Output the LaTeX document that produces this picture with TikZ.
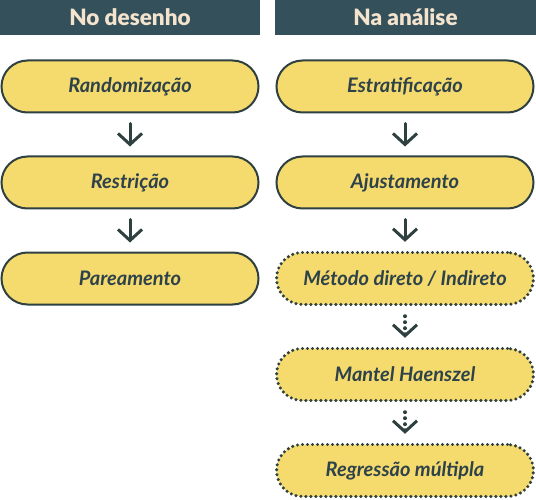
\documentclass[tikz,border=0pt]{standalone}
\usepackage{fontspec}
\setmainfont{Lato}
\newfontfamily\hdrfont{Lato Black}
\usetikzlibrary{arrows.meta}
\definecolor{hdrbg}{HTML}{34505A}
\definecolor{hdrtx}{HTML}{F4E4CE}
\definecolor{boxbg}{HTML}{F5DA6E}
\definecolor{boxln}{HTML}{2E4040}
\definecolor{boxtx}{HTML}{2E424A}
\tikzset{
  hdr/.style={fill=hdrbg, text=hdrtx, font=\hdrfont\fontsize{22.5}{24}\selectfont, minimum width=260pt, minimum height=35pt, inner sep=0pt},
  pill/.style={fill=boxbg, draw=boxln, line width=2pt, rounded corners=26pt, minimum width=257pt, minimum height=52pt, inner sep=0pt, text=boxtx, font=\fontsize{20}{23}\selectfont\bfseries\itshape},
  dotpill/.style={pill, line width=3.4pt, line cap=round, dash pattern=on 0pt off 5pt},
  arr/.style={draw=boxln, line width=3pt, line cap=round, line join=round, -{Straight Barb[length=11pt, width=24pt, line width=3pt]}, shorten <=10pt, shorten >=9pt},
  dotarr/.style={arr, line width=4pt, dash pattern=on 0pt off 6pt}
}
\begin{document}
\begin{tikzpicture}[x=1pt, y=-1pt]
\useasboundingbox (0,0) rectangle (536,500);
\node[hdr] (h1) at (130,17.5) {No desenho};
\node[hdr, minimum width=261pt] (h2) at (405.5,17.5) {Na análise};
\node[pill] (l1) at (130,86.5) {Randomização};
\node[pill] (l2) at (130,182.5) {Restrição};
\node[pill] (l3) at (130,278.5) {Pareamento};
\node[pill] (r1) at (405,86.5) {Estratificação};
\node[pill] (r2) at (405,182.5) {Ajustamento};
\node[dotpill] (r3) at (405,278.5) {Método direto / Indireto};
\node[dotpill] (r4) at (405,374.5) {Mantel Haenszel};
\node[dotpill] (r5) at (405,470.5) {Regressão múltipla};
\draw[arr] (l1) -- (l2);
\draw[arr] (l2) -- (l3);
\draw[arr] (r1) -- (r2);
\draw[arr] (r2) -- (r3);
\draw[dotarr] (r3) -- (r4);
\draw[dotarr] (r4) -- (r5);
\end{tikzpicture}
\end{document}
